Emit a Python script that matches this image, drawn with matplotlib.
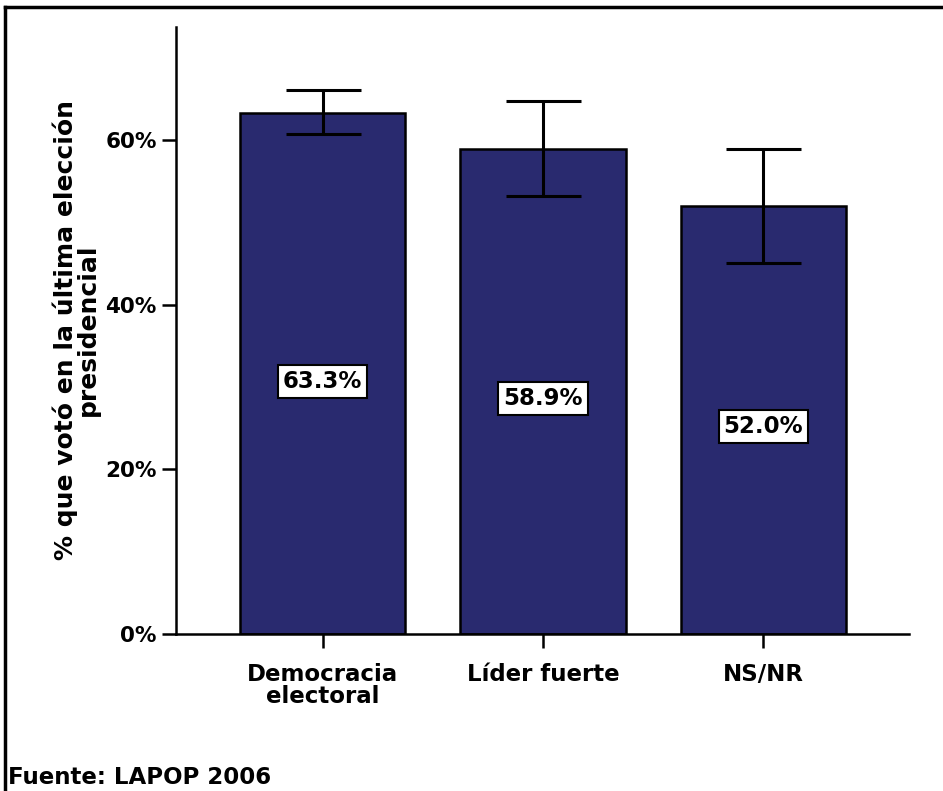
import matplotlib
matplotlib.use("Agg")
import matplotlib.pyplot as plt
from matplotlib.lines import Line2D

categories = ["Democracia\nelectoral", "Líder fuerte", "NS/NR"]
values = [63.3, 58.9, 52.0]
ci_low = [60.7, 53.2, 45.1]
ci_high = [66.1, 64.7, 58.9]
value_labels = ["63.3%", "58.9%", "52.0%"]
yticks = [0, 20, 40, 60]
ytick_labels = ["0%", "20%", "40%", "60%"]

plt.rcParams['font.family'] = ['DejaVu Sans']
plt.rcParams['font.weight'] = 'bold'

fig = plt.figure(figsize=(9.43, 7.91), dpi=100)
W, H = 943, 791
ax = fig.add_axes([176 / W, 1 - 634 / H, (909 - 176) / W, (634 - 27) / H])

x = list(range(len(categories)))
bar_color = "#292a6f"
ax.bar(x, values, width=0.75, color=bar_color, edgecolor="black", linewidth=1.8, zorder=2)
yerr = [[v - l for v, l in zip(values, ci_low)], [h - v for v, h in zip(values, ci_high)]]
ax.errorbar(x, values, yerr=yerr, fmt="none", ecolor="black", elinewidth=2.2,
            capsize=27, capthick=2.2, zorder=3)

for xi, v, lab in zip(x, values, value_labels):
    ax.text(xi, v * 0.485, lab, ha="center", va="center", fontsize=16.5, fontweight="bold",
            bbox=dict(boxstyle="square,pad=0.22", facecolor="white", edgecolor="black", linewidth=1.5),
            zorder=4)

ax.set_xlim(-0.666, 2.661)
ax.set_ylim(0, 73.7)
ax.set_yticks(yticks)
ax.set_yticklabels(ytick_labels, fontsize=15.5, fontweight="bold")
ax.set_xticks(x)
ax.set_xticklabels(categories, fontsize=16.5, fontweight="bold", linespacing=0.95)
ax.tick_params(axis="both", length=10, width=1.8, direction="out")
ax.tick_params(axis="y", pad=4)
ax.tick_params(axis="x", pad=11)
for s in ["top", "right"]:
    ax.spines[s].set_visible(False)
for s in ["left", "bottom"]:
    ax.spines[s].set_linewidth(1.8)

ax.set_ylabel("% que votó en la última elección\npresidencial", fontsize=18, fontweight="bold",
              linespacing=0.9)
ax.yaxis.set_label_coords(-76 / (909 - 176), 0.5 + (330.5 - 330) / (634 - 27))

# figure border (left and top)
fig.add_artist(Line2D([5 / W, 5 / W], [0, 1 - 7 / H], color="black", linewidth=2.5,
                      transform=fig.transFigure))
fig.add_artist(Line2D([5 / W, 1], [1 - 7 / H, 1 - 7 / H], color="black", linewidth=2.5,
                      transform=fig.transFigure))

fig.text(8 / W, 1 - 777 / H, "Fuente: LAPOP 2006", fontsize=16.5, fontweight="bold",
         ha="left", va="center")

fig.savefig("out.png", dpi=100)
